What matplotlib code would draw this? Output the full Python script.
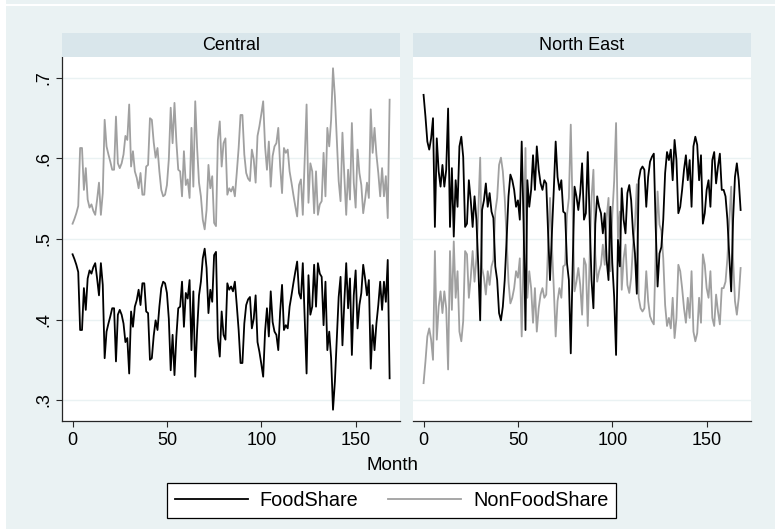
import matplotlib
matplotlib.use("Agg")
import matplotlib.pyplot as plt
from matplotlib.patches import Rectangle

# ---------------- data ----------------
months = list(range(169))
panel_names = ["Central", "North East"]
series_names = ["FoodShare", "NonFoodShare"]

central_food = [
    0.481, 0.475, 0.468, 0.459, 0.387, 0.387, 0.439, 0.412, 0.451, 0.461,
    0.457, 0.465, 0.470, 0.451, 0.430, 0.470, 0.443, 0.352, 0.385, 0.395,
    0.404, 0.414, 0.414, 0.348, 0.406, 0.412, 0.406, 0.395, 0.372, 0.377,
    0.333, 0.410, 0.391, 0.416, 0.424, 0.437, 0.418, 0.445, 0.445, 0.410,
    0.408, 0.350, 0.352, 0.380, 0.399, 0.387, 0.416, 0.439, 0.447, 0.445,
    0.433, 0.401, 0.337, 0.381, 0.331, 0.379, 0.414, 0.416, 0.447, 0.391,
    0.433, 0.426, 0.449, 0.362, 0.435, 0.329, 0.387, 0.430, 0.447, 0.476,
    0.488, 0.464, 0.408, 0.437, 0.422, 0.480, 0.484, 0.377, 0.354, 0.410,
    0.381, 0.375, 0.445, 0.437, 0.441, 0.435, 0.447, 0.418, 0.387, 0.346,
    0.346, 0.395, 0.418, 0.425, 0.428, 0.389, 0.401, 0.430, 0.372, 0.360,
    0.345, 0.329, 0.385, 0.414, 0.379, 0.435, 0.397, 0.385, 0.381, 0.362,
    0.410, 0.443, 0.387, 0.393, 0.389, 0.416, 0.430, 0.445, 0.459, 0.472,
    0.433, 0.426, 0.470, 0.401, 0.333, 0.455, 0.406, 0.416, 0.468, 0.416,
    0.470, 0.457, 0.453, 0.393, 0.447, 0.362, 0.385, 0.352, 0.288, 0.323,
    0.375, 0.428, 0.453, 0.368, 0.422, 0.470, 0.414, 0.451, 0.356, 0.430,
    0.461, 0.389, 0.418, 0.433, 0.468, 0.451, 0.430, 0.449, 0.339, 0.393,
    0.362, 0.395, 0.418, 0.447, 0.412, 0.447, 0.422, 0.474, 0.327,
]
central_nonfood = [
    0.519, 0.525, 0.532, 0.541, 0.613, 0.613, 0.561, 0.588, 0.549, 0.539,
    0.543, 0.535, 0.530, 0.549, 0.570, 0.530, 0.557, 0.648, 0.615, 0.605,
    0.596, 0.586, 0.586, 0.652, 0.594, 0.588, 0.594, 0.605, 0.628, 0.623,
    0.667, 0.590, 0.609, 0.584, 0.576, 0.563, 0.582, 0.555, 0.555, 0.590,
    0.592, 0.650, 0.648, 0.620, 0.601, 0.613, 0.584, 0.561, 0.553, 0.555,
    0.567, 0.599, 0.663, 0.619, 0.669, 0.621, 0.586, 0.584, 0.553, 0.609,
    0.567, 0.574, 0.551, 0.638, 0.565, 0.671, 0.613, 0.570, 0.553, 0.524,
    0.512, 0.536, 0.592, 0.563, 0.578, 0.520, 0.516, 0.623, 0.646, 0.590,
    0.619, 0.625, 0.555, 0.563, 0.559, 0.565, 0.553, 0.582, 0.613, 0.654,
    0.654, 0.605, 0.582, 0.575, 0.572, 0.611, 0.599, 0.570, 0.628, 0.640,
    0.655, 0.671, 0.615, 0.586, 0.621, 0.565, 0.603, 0.615, 0.619, 0.638,
    0.590, 0.557, 0.613, 0.607, 0.611, 0.584, 0.570, 0.555, 0.541, 0.528,
    0.567, 0.574, 0.530, 0.599, 0.667, 0.545, 0.594, 0.584, 0.532, 0.584,
    0.530, 0.543, 0.547, 0.607, 0.553, 0.638, 0.615, 0.648, 0.712, 0.677,
    0.625, 0.572, 0.547, 0.632, 0.578, 0.530, 0.586, 0.549, 0.644, 0.570,
    0.539, 0.611, 0.582, 0.567, 0.532, 0.549, 0.570, 0.551, 0.661, 0.607,
    0.638, 0.605, 0.582, 0.553, 0.588, 0.553, 0.578, 0.526, 0.673,
]
northeast_food = [
    0.679, 0.652, 0.621, 0.611, 0.625, 0.650, 0.515, 0.625, 0.584, 0.565,
    0.592, 0.565, 0.586, 0.662, 0.515, 0.588, 0.503, 0.573, 0.540, 0.615,
    0.627, 0.602, 0.515, 0.519, 0.573, 0.548, 0.515, 0.553, 0.524, 0.466,
    0.399, 0.536, 0.548, 0.569, 0.540, 0.557, 0.534, 0.526, 0.466, 0.449,
    0.408, 0.399, 0.416, 0.449, 0.499, 0.553, 0.580, 0.573, 0.561, 0.540,
    0.548, 0.524, 0.621, 0.519, 0.387, 0.573, 0.540, 0.561, 0.604, 0.561,
    0.615, 0.586, 0.569, 0.561, 0.573, 0.569, 0.507, 0.449, 0.507, 0.561,
    0.621, 0.577, 0.561, 0.573, 0.534, 0.532, 0.470, 0.449, 0.358, 0.466,
    0.565, 0.553, 0.536, 0.557, 0.594, 0.524, 0.532, 0.608, 0.524, 0.449,
    0.414, 0.519, 0.553, 0.540, 0.532, 0.507, 0.532, 0.474, 0.449, 0.540,
    0.470, 0.428, 0.356, 0.499, 0.466, 0.563, 0.524, 0.507, 0.557, 0.567,
    0.548, 0.507, 0.482, 0.432, 0.573, 0.586, 0.590, 0.586, 0.540, 0.577,
    0.596, 0.602, 0.606, 0.515, 0.441, 0.482, 0.490, 0.524, 0.582, 0.608,
    0.598, 0.611, 0.573, 0.623, 0.598, 0.532, 0.540, 0.561, 0.586, 0.604,
    0.573, 0.598, 0.540, 0.615, 0.627, 0.617, 0.573, 0.604, 0.519, 0.532,
    0.561, 0.573, 0.540, 0.598, 0.608, 0.569, 0.590, 0.606, 0.561, 0.561,
    0.553, 0.524, 0.478, 0.435, 0.524, 0.577, 0.594, 0.573, 0.536,
]
northeast_nonfood = [
    0.321, 0.348, 0.379, 0.389, 0.375, 0.350, 0.485, 0.375, 0.416, 0.435,
    0.408, 0.435, 0.414, 0.338, 0.485, 0.412, 0.497, 0.427, 0.460, 0.385,
    0.373, 0.398, 0.485, 0.481, 0.427, 0.452, 0.485, 0.447, 0.476, 0.534,
    0.601, 0.464, 0.452, 0.431, 0.460, 0.443, 0.466, 0.474, 0.534, 0.551,
    0.592, 0.601, 0.584, 0.551, 0.501, 0.447, 0.420, 0.427, 0.439, 0.460,
    0.452, 0.476, 0.379, 0.481, 0.613, 0.427, 0.460, 0.439, 0.396, 0.439,
    0.385, 0.414, 0.431, 0.439, 0.427, 0.431, 0.493, 0.551, 0.493, 0.439,
    0.379, 0.423, 0.439, 0.427, 0.466, 0.468, 0.530, 0.551, 0.642, 0.534,
    0.435, 0.447, 0.464, 0.443, 0.406, 0.476, 0.468, 0.392, 0.476, 0.551,
    0.586, 0.481, 0.447, 0.460, 0.468, 0.493, 0.468, 0.526, 0.551, 0.460,
    0.530, 0.572, 0.644, 0.501, 0.534, 0.437, 0.476, 0.493, 0.443, 0.433,
    0.452, 0.493, 0.518, 0.568, 0.427, 0.414, 0.410, 0.414, 0.460, 0.423,
    0.404, 0.398, 0.394, 0.485, 0.559, 0.518, 0.510, 0.476, 0.418, 0.392,
    0.402, 0.389, 0.427, 0.377, 0.402, 0.468, 0.460, 0.439, 0.414, 0.396,
    0.427, 0.402, 0.460, 0.385, 0.373, 0.383, 0.427, 0.396, 0.481, 0.468,
    0.439, 0.427, 0.460, 0.402, 0.392, 0.431, 0.410, 0.394, 0.439, 0.439,
    0.447, 0.476, 0.522, 0.565, 0.476, 0.423, 0.406, 0.427, 0.464,
]
ytick_values = [0.3, 0.4, 0.5, 0.6, 0.7]
ytick_labels = [".3", ".4", ".5", ".6", ".7"]
xtick_values = [0, 50, 100, 150]
xlabel_text = "Month"

# ---------------- style ----------------
plt.rcParams['font.family'] = ['Liberation Sans', 'DejaVu Sans']
BG = '#eaf2f3'
STRIP = '#d9e6eb'
GRID = '#eaf2f3'
FOOD_C = '#000000'
NONFOOD_C = '#a0a0a0'
AXC = '#262626'

W, H = 775, 529
fig = plt.figure(figsize=(W / 100, H / 100), dpi=100, facecolor=BG)

def rect(px_left, px_top, px_right, px_bottom):
    return [px_left / W, 1 - px_bottom / H, (px_right - px_left) / W, (px_bottom - px_top) / H]

# thin white edges like the screenshot
fig.patches.append(Rectangle((0, 0), 6 / W, 1, transform=fig.transFigure,
                             facecolor='white', edgecolor='none', zorder=-5))
fig.patches.append(Rectangle((0, 1 - 6 / H), 1, 2 / H, transform=fig.transFigure,
                             facecolor='white', edgecolor='none', zorder=-5))

panel_data = [(central_food, central_nonfood), (northeast_food, northeast_nonfood)]
panel_px = [(62, 400), (413, 751)]

axes = []
for i, (name, (food, nonfood), (l, r)) in enumerate(zip(panel_names, panel_data, panel_px)):
    ax = fig.add_axes(rect(l, 57, r, 421))
    ax.set_facecolor('white')
    ax.plot(months, food, color=FOOD_C, lw=1.3, label=series_names[0], zorder=3)
    ax.plot(months, nonfood, color=NONFOOD_C, lw=1.3, label=series_names[1], zorder=2)
    ax.set_xlim(-5.6, 173.5)
    ax.set_ylim(0.274, 0.726)
    ax.set_yticks(ytick_values)
    ax.set_xticks(xtick_values)
    ax.set_xticklabels([str(v) for v in xtick_values])
    ax.grid(axis='y', color=GRID, lw=1.0, zorder=0)
    ax.set_axisbelow(True)
    for s in ['top', 'right']:
        ax.spines[s].set_visible(False)
    ax.spines['bottom'].set_color(AXC)
    ax.spines['bottom'].set_linewidth(0.9)
    ax.tick_params(axis='x', direction='out', length=4, width=0.8, color=AXC,
                   labelsize=13, pad=4, labelcolor='black')
    if i == 0:
        ax.spines['left'].set_color(AXC)
        ax.spines['left'].set_linewidth(0.9)
        ax.set_yticklabels(ytick_labels, rotation=90, va='center')
        ax.tick_params(axis='y', direction='out', length=4, width=0.8, color=AXC,
                       labelsize=13, pad=3, labelcolor='black')
    else:
        ax.spines['left'].set_visible(False)
        ax.tick_params(axis='y', left=False, labelleft=False)
    axes.append(ax)

    sax = fig.add_axes(rect(l, 33, r, 57))
    sax.set_facecolor(STRIP)
    sax.set_xticks([])
    sax.set_yticks([])
    for s in sax.spines.values():
        s.set_visible(False)
    sax.text(0.5, 0.47, name, ha='center', va='center', fontsize=13,
             transform=sax.transAxes)

fig.text(392 / W, 1 - 465 / H, xlabel_text, ha='center', va='center', fontsize=13.5)

handles, labels = axes[0].get_legend_handles_labels()
leg = fig.legend(handles, labels, loc='center', ncol=2,
                 bbox_to_anchor=((166 + 617) / 2 / W, 1 - 500.5 / H),
                 fontsize=14.3, frameon=True, fancybox=False, framealpha=1,
                 edgecolor='black', facecolor='white',
                 handlelength=3.67, handletextpad=0.6, columnspacing=1.5,
                 borderpad=0.4)
leg.get_frame().set_linewidth(0.9)

fig.savefig('out.png', dpi=100, facecolor=BG)
